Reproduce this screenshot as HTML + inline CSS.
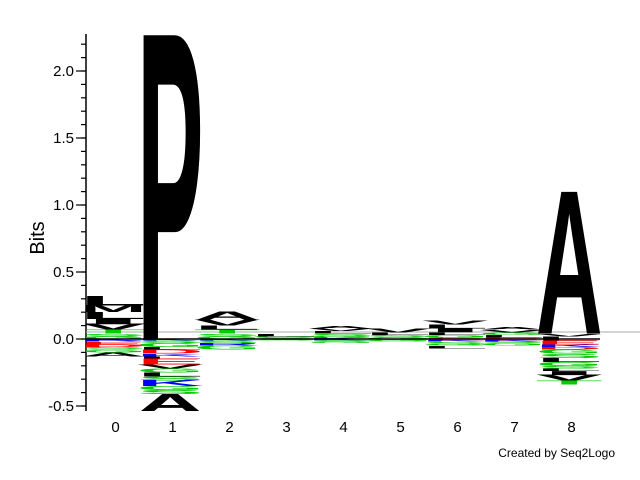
<!DOCTYPE html>
<html><head><meta charset="utf-8"><style>
html,body{margin:0;padding:0;background:#fff;width:640px;height:480px;overflow:hidden}
text{font-family:"Liberation Sans",sans-serif}
</style></head><body>
<svg id="chart" width="640" height="480" viewBox="0 0 640 480" xmlns="http://www.w3.org/2000/svg">
<defs><clipPath id="plotclip"><rect x="86" y="34" width="554" height="377"/></clipPath></defs>
<g id="axes"></g>
<g id="marks" clip-path="url(#plotclip)"></g>
<text x="44" y="238" font-size="20" text-anchor="middle" transform="rotate(-90 44 238)">Bits</text>
<text x="615" y="457" font-size="12" text-anchor="end">Created by Seq2Logo</text>
</svg>
<script>
const positions = [0,1,2,3,4,5,6,7,8];
const posStacks = [
 [['G',0.02],['S',0.02],['T',0.03],['V',0.04],['I',0.04],['L',0.05],['M',0.05],['L',0.07]],
 [['P',2.27]],
 [['G',0.02],['S',0.02],['T',0.03],['L',0.03],['V',0.04],['A',0.06]],
 [['S',0.01],['G',0.01],['L',0.02]],
 [['K',0.01],['G',0.01],['S',0.02],['L',0.02],['V',0.02],['A',0.02]],
 [['G',0.01],['S',0.02],['L',0.02],['V',0.03]],
 [['E',0.01],['G',0.02],['L',0.02],['I',0.03],['L',0.03],['V',0.03]],
 [['E',0.01],['L',0.02],['G',0.02],['V',0.02],['A',0.02]],
 [['L',0.02],['V',0.02],['A',1.06]]
];
const negStacks = [
 [['K',0.01],['R',0.01],['E',0.02],['D',0.02],['S',0.02],['G',0.02],['A',0.03]],
 [['K',0.01],['S',0.02],['G',0.03],['L',0.02],['D',0.03],['K',0.02],['L',0.02],['E',0.04],['V',0.03],['G',0.03],['L',0.03],['S',0.03],['K',0.04],['G',0.03],['S',0.03],['A',0.14]],
 [['K',0.01],['S',0.02],['R',0.02],['G',0.03]],
 [['S',0.01]],
 [['K',0.01],['S',0.01],['G',0.01]],
 [['S',0.01],['G',0.01]],
 [['E',0.01],['K',0.01],['S',0.02],['G',0.01],['L',0.02]],
 [['E',0.01],['K',0.01],['S',0.01],['G',0.02]],
 [['L',0.01],['E',0.03],['K',0.02],['D',0.02],['G',0.03],['S',0.03],['L',0.03],['G',0.03],['S',0.02],['L',0.02],['I',0.03],['V',0.04],['T',0.03]]
];
const yTicks = [-0.5,0.0,0.5,1.0,1.5,2.0];
const yTickLabels = ['-0.5','0.0','0.5','1.0','1.5','2.0'];

const NS='http://www.w3.org/2000/svg';
const y0=339, pxPerBit=134, xLeft=86, colW=57, colStart=87;
const yScale=v=>y0-v*pxPerBit;
const xScale=i=>colStart+i*colW;
const colorOf=c=>'KRH'.includes(c)?'#0000ff':'DE'.includes(c)?'#ff0000':'GSTYCNQ'.includes(c)?'#00cc00':'#000000';

const axes=document.getElementById('axes');
function line(p,x1,y1,x2,y2,stroke,w){const l=document.createElementNS(NS,'line');l.setAttribute('x1',x1);l.setAttribute('y1',y1);l.setAttribute('x2',x2);l.setAttribute('y2',y2);l.setAttribute('stroke',stroke);l.setAttribute('stroke-width',w);p.appendChild(l);return l;}
const ax=line(axes,xLeft,34,xLeft,411,'#000',1.5);


for(let v=-0.5;v<=2.26;v+=0.1){const y=yScale(Math.round(v*10)/10);line(axes,81,y,xLeft,y,'#000',1.2);}
yTicks.forEach((v,i)=>{const y=yScale(v);line(axes,76,y,xLeft,y,'#000',1.2);
 const t=document.createElementNS(NS,'text');t.setAttribute('x',74);t.setAttribute('y',y+5);t.setAttribute('font-size',15);t.setAttribute('text-anchor','end');t.textContent=yTickLabels[i];
 
 
 axes.appendChild(t);});
positions.forEach((p,i)=>{const t=document.createElementNS(NS,'text');t.setAttribute('x',xScale(i)+colW/2);t.setAttribute('y',432);t.setAttribute('font-size',15);t.setAttribute('text-anchor','middle');t.textContent=p;
 
 
 axes.appendChild(t);});

const marks=document.getElementById('marks');
const gl=line(marks,xLeft,332,640,332,'#aaa',1);


function letter(ch,x,w,yTop,yBot){
 const h=yBot-yTop; if(h<=0)return;
 const g=document.createElementNS(NS,'g');
 g.setAttribute('transform','translate('+(x-w*0.127)+','+yBot+') scale(1,'+(h/68.9)+')');
 const t=document.createElementNS(NS,'text');
 t.setAttribute('x',0);t.setAttribute('y',0);t.setAttribute('font-size',100);t.setAttribute('font-weight','bold');
 t.setAttribute('textLength',w*1.19);t.setAttribute('lengthAdjust','spacingAndGlyphs');t.setAttribute('fill',colorOf(ch));
 t.textContent=ch;
 
 
 g.appendChild(t);marks.appendChild(g);
}
positions.forEach((p,i)=>{
 const x=xScale(i), w=colW-1;
 let acc=0;
 posStacks[i].forEach(([c,v])=>{letter(c,x,w,yScale(acc+v),yScale(acc));acc+=v;});
 acc=0;
 negStacks[i].forEach(([c,v])=>{letter(c,x,w,yScale(-acc),yScale(-acc-v));acc+=v;});
});
const zl=line(marks,xLeft,y0,600,y0,'#000',1.5);


</script>
</body></html>
